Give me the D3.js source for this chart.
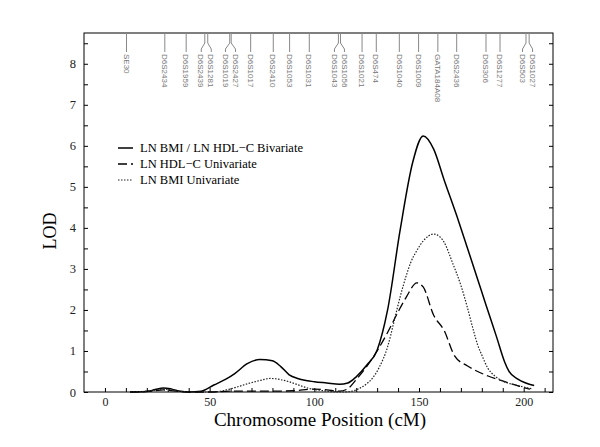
<html>
<head>
<script src="https://d3js.org/d3.v7.min.js"></script>
<style>
  body { margin: 0; background: #fff; }
  text { font-family: "Liberation Serif", "Times New Roman", serif; }
  .marker text { font-family: "Liberation Sans", Arial, sans-serif; font-size: 8px; fill: #777; }
</style>
</head>
<body>
<svg id="chart" width="600" height="447"></svg>
<script>
// bivariate LN BMI / LN HDL-C
const bivCM  = [12, 20, 24, 28, 32, 36, 40, 46, 52, 58, 62, 68, 74, 80, 84, 88, 92, 96, 100, 106, 112, 116, 120, 125, 130, 135, 141, 147, 152, 157, 162, 168, 173, 178, 182, 187, 191, 193, 197, 201, 205];
const bivLOD = [0, 0.01, 0.06, 0.1, 0.07, 0.02, 0, 0.02, 0.17, 0.32, 0.45, 0.69, 0.79, 0.76, 0.62, 0.42, 0.33, 0.28, 0.25, 0.22, 0.19, 0.22, 0.37, 0.65, 1.02, 2.0, 3.95, 5.6, 6.24, 5.92, 5.17, 4.3, 3.53, 2.75, 2.12, 1.35, 0.72, 0.5, 0.32, 0.22, 0.16];

// LN HDL-C univariate
const hdlCM  = [12, 22, 28, 34, 40, 50, 60, 70, 80, 90, 100, 106, 112, 116, 120, 125, 130, 135, 140, 144, 149, 152, 157, 162, 167, 173, 178, 183, 188, 193, 198, 203];
const hdlLOD = [0, 0.02, 0.05, 0.02, 0, 0, 0.02, 0.02, 0.02, 0.03, 0.07, 0.05, 0.02, 0.08, 0.3, 0.62, 1.0, 1.45, 1.95, 2.32, 2.66, 2.56, 1.87, 1.5, 0.88, 0.64, 0.5, 0.39, 0.3, 0.22, 0.14, 0.07];

// LN BMI univariate
const bmiCM  = [12, 22, 28, 34, 40, 50, 54, 58, 63, 68, 74, 79, 84, 88, 93, 98, 103, 108, 114, 118, 122, 125, 128, 131, 135, 138, 141, 144, 146, 149, 152, 157, 160, 162, 166, 170, 173, 176, 178, 180, 183, 186, 189, 193, 197, 200, 204];
const bmiLOD = [0, 0.03, 0.07, 0.03, 0, 0, 0.01, 0.05, 0.12, 0.2, 0.28, 0.33, 0.3, 0.25, 0.16, 0.08, 0.04, 0.01, 0, 0.02, 0.1, 0.2, 0.35, 0.6, 1.1, 1.7, 2.32, 2.85, 3.15, 3.45, 3.68, 3.85, 3.78, 3.65, 3.15, 2.6, 2.08, 1.5, 1.15, 0.9, 0.57, 0.4, 0.29, 0.21, 0.16, 0.12, 0.08];

const markerNames = ["SE30", "D6S2434", "D6S1959", "D6S2439", "D6S1281", "D6S1019", "D6S2427", "D6S1017", "D6S2410", "D6S1053", "D6S1031", "D6S1043", "D6S1056", "D6S1021", "D6S474", "D6S1040", "D6S1009", "GATA184A08", "D6S2436", "D6S306", "D6S1277", "D6S503", "D6S1027"];
const markerCM = [10.3, 28.6, 38.8, 47.7, 49.1, 59.6, 60.3, 69.6, 80.4, 88.2, 97.6, 111.5, 112.5, 122.8, 129.6, 140.6, 149.8, 159, 168, 182, 188.7, 201.1, 202.6];

const xTickLabels = [0, 50, 100, 150, 200];
const yTickLabels = [0, 1, 2, 3, 4, 5, 6, 7, 8];
const legendLabels = ["LN BMI / LN HDL\u2212C Bivariate", "LN HDL\u2212C Univariate", "LN BMI Univariate"];

const svg = d3.select("#chart");
const mLeft = 84, mRight = 553, mTop = 33, mBottom = 392;

const x = d3.scaleLinear().domain([-10, 214]).range([mLeft, mRight]);
const y = d3.scaleLinear().domain([0, 8.75]).range([mBottom, mTop]);

// frame
svg.append("rect").attr("x", mLeft).attr("y", mTop)
  .attr("width", mRight - mLeft).attr("height", mBottom - mTop)
  .attr("fill", "none").attr("stroke", "#000").attr("stroke-width", 1);

// bottom axis
const xAxis = svg.append("g").attr("transform", `translate(0,${mBottom})`)
  .call(d3.axisBottom(x).tickValues(d3.range(0, 211, 10)).tickSize(-4).tickSizeOuter(0).tickPadding(5)
    .tickFormat(d => xTickLabels.includes(d) ? d : ""));
xAxis.select(".domain").remove();
xAxis.selectAll("text").attr("font-size", 12).attr("fill", "#222");

// left & right axes, major and minor ticks inward
const yAxis = svg.append("g").attr("transform", `translate(${mLeft},0)`)
  .call(d3.axisLeft(y).tickValues(d3.range(0, 8.51, 0.5)).tickSize(-4).tickSizeOuter(0).tickPadding(8)
    .tickFormat(d => yTickLabels.includes(d) ? d : ""));
yAxis.select(".domain").remove();
yAxis.selectAll("text").attr("font-size", 12.5).attr("fill", "#222");

const yAxisR = svg.append("g").attr("transform", `translate(${mRight},0)`)
  .call(d3.axisRight(y).tickValues(d3.range(0, 8.51, 0.5)).tickSize(-4).tickSizeOuter(0).tickFormat(""));
yAxisR.select(".domain").remove();

// axis titles
svg.append("text").attr("x", 320).attr("y", 426)
  .attr("text-anchor", "middle").attr("font-size", 19).text("Chromosome Position (cM)");
svg.append("text").attr("transform", "translate(56,231) rotate(-90)")
  .attr("text-anchor", "middle").attr("font-size", 18).text("LOD");

// markers along the top
const mx = markerCM.map(d => x(d));
const lx = mx.slice();
for (let i = 0; i < lx.length - 1; i++) {
  if (lx[i + 1] - lx[i] < 9) {
    const c = (lx[i] + lx[i + 1]) / 2;
    lx[i] = c - 5; lx[i + 1] = c + 5;
  }
}
const mg = svg.append("g").attr("class", "marker");
markerNames.forEach((name, i) => {
  mg.append("path")
    .attr("d", `M${mx[i]},${mTop} L${mx[i]},43 L${lx[i]},49 L${lx[i]},52`)
    .attr("fill", "none").attr("stroke", "#888").attr("stroke-width", 1);
  mg.append("text")
    .attr("transform", `translate(${lx[i]},54) rotate(90)`)
    .attr("dy", "0.35em").text(name);
});

// curves
const line = d3.line().x(d => x(d[0])).y(d => y(d[1])).curve(d3.curveMonotoneX);
const series = [
  { data: d3.zip(bivCM, bivLOD), dash: null, width: 1.5, color: "#000" },
  { data: d3.zip(hdlCM, hdlLOD), dash: "9,4", width: 1.3, color: "#000" },
  { data: d3.zip(bmiCM, bmiLOD), dash: "1.5,1.5", width: 1.2, color: "#222" }
];
series.forEach(s => {
  svg.append("path").datum(s.data).attr("d", line)
    .attr("fill", "none").attr("stroke", s.color).attr("stroke-width", s.width)
    .attr("stroke-dasharray", s.dash);
});

// legend
const lg = svg.append("g");
legendLabels.forEach((t, i) => {
  const ly = 148 + i * 16;
  lg.append("line").attr("x1", 118).attr("x2", 133).attr("y1", ly).attr("y2", ly)
    .attr("stroke", series[i].color).attr("stroke-width", series[i].width)
    .attr("stroke-dasharray", series[i].dash);
  lg.append("text").attr("x", 140).attr("y", ly).attr("dy", "0.35em")
    .attr("font-size", 12.5).text(t);
});
</script>
</body>
</html>
